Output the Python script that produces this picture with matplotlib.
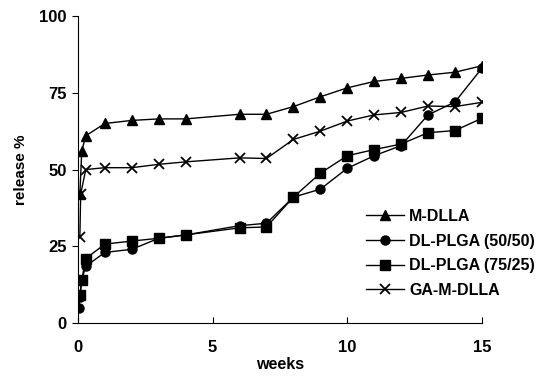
import matplotlib
matplotlib.use('Agg')
import matplotlib.pyplot as plt

# sampling times (weeks) and release %
weeks_m = [0.07, 0.14, 0.29, 1, 2, 3, 4, 6, 7, 8, 9, 10, 11, 12, 13, 14, 15]
m_dlla = [42, 56, 61, 65, 66, 66.5, 66.5, 68, 68, 70.5, 73.7, 76.6, 78.7, 79.7, 80.8, 81.7, 83.8]

weeks_50 = [0.04, 0.07, 0.14, 0.29, 1, 2, 3, 4, 6, 7, 8, 9, 10, 11, 12, 13, 14, 15]
plga_50 = [5, 8.5, 14, 18.5, 23, 24, 27.6, 28.7, 31.7, 32.5, 41, 43.6, 50.4, 54.5, 57.8, 67.8, 72, 83]

weeks_75 = [0.07, 0.14, 0.29, 1, 2, 3, 4, 6, 7, 8, 9, 10, 11, 12, 13, 14, 15]
plga_75 = [9, 14, 21, 25.7, 26.7, 27.6, 28.7, 31, 31.3, 41, 48.8, 54.5, 56.5, 58.3, 62, 62.7, 66.7]

weeks_ga = [0.07, 0.1, 0.29, 1, 2, 3, 4, 6, 7, 8, 9, 10, 11, 12, 13, 14, 15]
ga_m_dlla = [28, 42, 50, 50.6, 50.6, 51.7, 52.5, 53.8, 53.6, 59.8, 62.5, 65.8, 67.8, 68.6, 70.7, 70.5, 71.9]

x_ticks = [0, 5, 10, 15]
y_ticks = [0, 25, 50, 75, 100]

plt.rcParams['font.family'] = ['Liberation Sans', 'DejaVu Sans']
plt.rcParams['font.weight'] = 'bold'

fig = plt.figure(figsize=(5.4, 3.78), dpi=100)
ax = fig.add_axes([0.1444, 0.1455, 0.748, 0.812])

ax.plot(weeks_m, m_dlla, color='black', lw=1, marker='^', ms=6.5, label='M-DLLA')
ax.plot(weeks_50, plga_50, color='black', lw=1, marker='o', ms=6.5, label='DL-PLGA (50/50)')
ax.plot(weeks_75, plga_75, color='black', lw=1, marker='s', ms=6.5, label='DL-PLGA (75/25)')
ax.plot(weeks_ga, ga_m_dlla, color='black', lw=1, marker='x', ms=7, mew=1.3, label='GA-M-DLLA')

ax.set_xlim(0, 15)
ax.set_ylim(0, 100)
ax.set_xticks(x_ticks)
ax.set_yticks(y_ticks)
ax.spines['top'].set_visible(False)
ax.spines['right'].set_visible(False)
ax.tick_params(axis='x', direction='in', length=4, labelsize=12, pad=12)
ax.tick_params(axis='y', direction='out', length=4, labelsize=12, pad=4)

ax.set_xlabel('weeks', fontsize=11.5, fontweight='bold', labelpad=2)
ax.set_ylabel('release %', fontsize=11, fontweight='bold', labelpad=8)

ax.legend(loc='upper left', bbox_to_anchor=(366 / 540, 1 - 209 / 378),
          bbox_transform=fig.transFigure, frameon=False, fontsize=11.5,
          handlelength=2.4, handletextpad=0.3, labelspacing=0.6,
          borderpad=0, borderaxespad=0)

fig.savefig('out.png', dpi=100)
